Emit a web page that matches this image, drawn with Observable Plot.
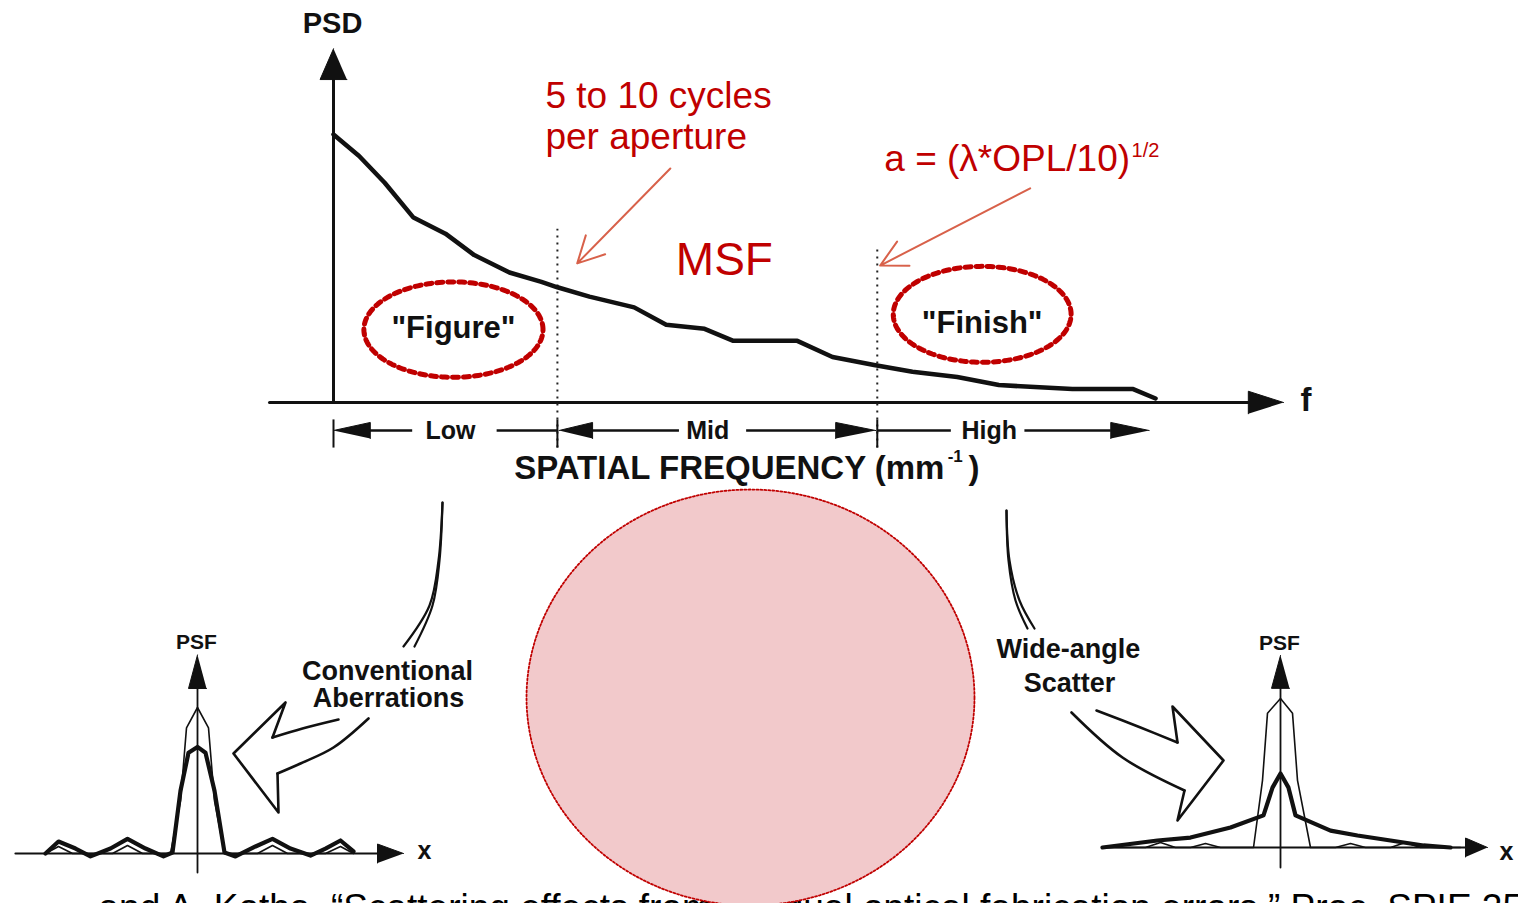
<!DOCTYPE html>
<html><head><meta charset="utf-8">
<script src="https://cdn.jsdelivr.net/npm/d3@7"></script>
<script src="https://cdn.jsdelivr.net/npm/@observablehq/plot@0.6"></script>
<style>
html,body{margin:0;padding:0;background:#fff;overflow:hidden}
#stage{position:relative;width:1518px;height:903px;overflow:hidden;background:#fff}
#stage svg{position:absolute;left:0;top:0;background:transparent}
</style></head><body><div id="stage"></div>
<script>
// ---------------- data ----------------
// PSD curve (spatial frequency in arbitrary units, PSD in arbitrary units)
const psdFreq  = [0, 0.8, 1.6, 2.5, 3.5, 4.4, 5.5, 6.5, 7, 8, 9.4, 10.4, 11.6, 12.5, 14.5, 15.6, 16.9, 18.1, 19.5, 20.8, 23.1, 25, 25.7];
const psdValue = [10, 9.2, 8.2, 6.9, 6.3, 5.5, 4.85, 4.5, 4.3, 3.95, 3.55, 2.9, 2.75, 2.3, 2.3, 1.7, 1.4, 1.15, 0.95, 0.65, 0.5, 0.5, 0.15];
// band boundaries (Low | Mid | High)
const bandLabels = ["Low", "Mid", "High"];
const bandEdges = [0, 7, 17];
// left PSF: ideal (thin) and conventional aberrations (thick)
const leftIdealX  = [-15.2, -13.9, -12.5, -8.5, -7.0, -5.5, -2.7, -1.7, -1.1, 0, 1.1, 1.7, 2.7, 6.0, 7.5, 9.0, 12.8, 14.3, 15.6];
const leftIdealY  = [0, 0.048, 0, 0, 0.055, 0, 0, 0.36, 0.86, 1, 0.86, 0.36, 0, 0, 0.055, 0, 0, 0.048, 0];
const leftAberrX  = [-15.2, -13.9, -12.2, -10.7, -8.7, -7.0, -5.2, -3.4, -2.5, -1.7, -0.9, 0, 0.8, 1.7, 2.7, 3.8, 5.8, 7.5, 9.3, 11.3, 12.8, 14.3, 15.6];
const leftAberrY  = [0, 0.082, 0.034, -0.02, 0.034, 0.10, 0.034, -0.02, 0.007, 0.43, 0.69, 0.73, 0.69, 0.43, 0.007, -0.02, 0.048, 0.10, 0.034, -0.014, 0.034, 0.089, 0.014];
// right PSF: ideal (thin) and wide-angle scatter (thick)
const rightIdealX   = [-17.8, -13.5, -12, -10.5, -9, -7.5, -6, -2.7, -1.8, -1.3, 0, 1.2, 1.7, 3, 5.5, 7, 8.5, 11, 12.5, 14, 18];
const rightIdealY   = [0, 0, 0.034, 0, 0, 0.027, 0, 0, 0.46, 0.92, 1.02, 0.92, 0.46, 0, 0, 0.027, 0, 0, 0.034, 0, 0];
const rightScatterX = [-17.8, -12.3, -9, -5, -1.7, -0.8, 0, 0.8, 1.5, 5, 7.7, 11, 14.3, 17];
const rightScatterY = [0, 0.048, 0.068, 0.137, 0.22, 0.41, 0.507, 0.41, 0.22, 0.116, 0.082, 0.048, 0.014, 0];
// texts
const annotTop = ["5 to 10 cycles", "per aperture"];
const formula = "a = (\u03bb*OPL/10)";
const formulaExp = "1/2";
const citation = "and A. Kotha, \u201cScattering effects from residual optical fabrication errors,\u201d Proc. SPIE 2576 (1995)";

// ---------------- helpers ----------------
const FONT = "Liberation Sans, Arial, Helvetica, sans-serif";
const RED = "#c00000";
const SALMON = "#d8614a";
const rows = (xs, ys) => xs.map((x, i) => ({x, y: ys[i]}));
const pts = arr => arr.map(([x, y]) => ({x, y}));
const poly = (arr, o = {}) => Plot.line(pts(arr), {x: "x", y: "y", fill: "#111", stroke: "#111", strokeWidth: 1, ...o});
const ellipse = (cx, cy, rx, ry, n = 200) => d3.range(n + 1).map(i => {
  const t = 2 * Math.PI * i / n;
  return {x: cx + rx * Math.cos(t), y: cy + ry * Math.sin(t)};
});
const txt = (x, y, t, o = {}) => Plot.text([t], {x: () => x, y: () => y, text: d => d, fontFamily: FONT, fill: "#111", ...o});
function layer(xd, xr, yd, yr, marks) {
  return Plot.plot({
    width: 1518, height: 903, margin: 0,
    x: {domain: xd, range: xr, axis: null},
    y: {domain: yd, range: yr, axis: null},
    style: {background: "transparent", overflow: "hidden"},
    marks
  });
}
const stage = document.getElementById("stage");

// ---------------- main PSD chart ----------------
const psdRows = psdFreq.map((f, i) => ({x: f, y: psdValue[i]}));
const segs = [[1.1, 2.46], [5.1, 7], [8.06, 10.8], [12.9, 15.7], [17, 19.3], [21.6, 24.3]];
const rowY = -1.045;
const mainMarks = [
  // axes
  Plot.line(pts([[-2, 0], [28.8, 0]]), {x: "x", y: "y", stroke: "#111", strokeWidth: 3}),
  poly([[29.7, 0], [28.6, 0.42], [28.6, -0.42]]),
  Plot.line(pts([[0, 0], [0, 12.3]]), {x: "x", y: "y", stroke: "#111", strokeWidth: 3}),
  poly([[0, 13.2], [-0.42, 12.05], [0.42, 12.05]]),
  // dotted band boundaries
  Plot.ruleX([{x: bandEdges[1], top: 6.46}, {x: bandEdges[2], top: 5.86}], {x: "x", y1: -1.7, y2: "top", stroke: "#222", strokeWidth: 2, strokeDasharray: "2 5"}),
  // PSD curve
  Plot.line(psdRows, {x: "x", y: "y", stroke: "#111", strokeWidth: 4.5, strokeLinejoin: "round", strokeLinecap: "round"}),
  // band row
  Plot.ruleX(bandEdges, {x: d => d, y1: -0.65, y2: -1.7, stroke: "#111", strokeWidth: 2}),
  Plot.link(segs, {x1: d => d[0], x2: d => d[1], y1: () => rowY, y2: () => rowY, stroke: "#111", strokeWidth: 2.5}),
  poly([[0, rowY], [1.15, rowY + 0.3], [1.15, rowY - 0.3]]),
  poly([[7.05, rowY], [8.1, rowY + 0.3], [8.1, rowY - 0.3]]),
  poly([[16.95, rowY], [15.7, rowY + 0.3], [15.7, rowY - 0.3]]),
  poly([[25.5, rowY], [24.3, rowY + 0.3], [24.3, rowY - 0.3]]),
  Plot.text(bandLabels, {x: [3.66, 11.7, 20.5], y: [rowY, rowY, rowY], text: d => d, fontFamily: FONT, fontSize: 25, fontWeight: "bold", fill: "#111"}),
  txt(19.1, -2.455, "SPATIAL FREQUENCY (mm", {fontSize: 33, fontWeight: "bold", textAnchor: "end"}),
  txt(19.2, -2.0, "-1", {fontSize: 17, fontWeight: "bold", textAnchor: "start"}),
  txt(19.85, -2.455, ")", {fontSize: 33, fontWeight: "bold", textAnchor: "start"}),
  txt(-0.03, 14.12, "PSD", {fontSize: 29, fontWeight: "bold"}),
  txt(30.4, 0.07, "f", {fontSize: 33, fontWeight: "bold"}),
  // red annotations
  txt(6.625, 11.44, annotTop[0], {fontSize: 37, fill: RED, textAnchor: "start"}),
  txt(6.625, 9.91, annotTop[1], {fontSize: 37, fill: RED, textAnchor: "start"}),
  txt(12.22, 5.3, "MSF", {fontSize: 46, fill: RED}),
  txt(17.22, 9.09, formula, {fontSize: 37, fill: RED, textAnchor: "start"}),
  txt(24.95, 9.4, formulaExp, {fontSize: 20, fill: RED, textAnchor: "start"}),
  Plot.arrow([{x1: 10.53, y1: 8.73, x2: 7.62, y2: 5.19}, {x1: 21.78, y1: 7.99, x2: 17.09, y2: 5.11}],
    {x1: "x1", y1: "y1", x2: "x2", y2: "y2", stroke: SALMON, strokeWidth: 2, headLength: 22, headAngle: 55}),
  Plot.line(ellipse(3.75, 2.72, 2.8, 1.78), {x: "x", y: "y", stroke: RED, strokeWidth: 5, strokeDasharray: "6 5"}),
  Plot.line(ellipse(20.28, 3.29, 2.78, 1.79), {x: "x", y: "y", stroke: RED, strokeWidth: 5, strokeDasharray: "6 5"}),
  txt(3.75, 2.78, "\"Figure\"", {fontSize: 31, fontWeight: "bold"}),
  txt(20.28, 2.95, "\"Finish\"", {fontSize: 31, fontWeight: "bold"})
];
stage.appendChild(layer([0, 29.7], [333, 1283], [0, 10], [402, 134], mainMarks));

// ---------------- PSF plots ----------------
function psfMarks(ideal, aberr, ax) {
  return [
    Plot.line(pts([[ax.x0, 0], [ax.xe, 0]]), {x: "x", y: "y", stroke: "#111", strokeWidth: 2.2}),
    poly([[ax.xt, 0], [ax.xe, 0.065], [ax.xe, -0.065]]),
    Plot.line(pts([[0, ax.yb], [0, ax.ye]]), {x: "x", y: "y", stroke: "#111", strokeWidth: 1.8}),
    poly([[0, ax.yt], [-0.9, ax.ye], [0.9, ax.ye]]),
    Plot.line(ideal, {x: "x", y: "y", stroke: "#111", strokeWidth: 1.6, strokeLinejoin: "round"}),
    Plot.line(aberr, {x: "x", y: "y", stroke: "#111", strokeWidth: 4.2, strokeLinejoin: "round"}),
    txt(-0.1, ax.ly, "PSF", {fontSize: 21, fontWeight: "bold"}),
    txt(ax.xl, ax.xly, "x", {fontSize: 25, fontWeight: "bold"})
  ];
}
stage.appendChild(layer([0, 10], [197, 297], [0, 1], [853, 707],
  psfMarks(rows(leftIdealX, leftIdealY), rows(leftAberrX, leftAberrY),
    {x0: -18.2, xe: 18, xt: 20.6, yb: -0.13, ye: 1.13, yt: 1.36, ly: 1.45, xl: 22.7, xly: 0.02})));
stage.appendChild(layer([0, 10], [1280, 1380], [0, 1], [847, 701],
  psfMarks(rows(rightIdealX, rightIdealY), rows(rightScatterX, rightScatterY),
    {x0: -17.8, xe: 18.5, xt: 20.7, yb: -0.137, ye: 1.09, yt: 1.315, ly: 1.40, xl: 22.6, xly: -0.03})));

// ---------------- overlay (page coordinates) ----------------
const K = {stroke: "#111", strokeWidth: 2.6, strokeLinejoin: "round"};
const curveLine = (arr, o = {}) => Plot.line(pts(arr), {x: "x", y: "y", curve: "catmull-rom", ...K, ...o});
const overlayMarks = [
  // citation (partly hidden by the ellipse and the page edge, as in the reference)
  txt(98, 893, citation, {fontSize: 37, textAnchor: "start", lineAnchor: "top", fill: "#000"}),
  // pink ellipse
  Plot.line(ellipse(750, 697, 224, 208), {x: "x", y: "y", fill: "#f2c9cb", stroke: RED, strokeWidth: 1.8, strokeDasharray: "2 2"}),
  // leader lines
  curveLine([[442, 502], [438, 560], [429, 605], [403, 646]], {strokeWidth: 2.2}),
  curveLine([[442, 502], [439, 560], [432, 605], [414, 646]], {strokeWidth: 2.2}),
  curveLine([[1006, 510], [1008, 560], [1015, 600], [1027, 628]], {strokeWidth: 2.2}),
  curveLine([[1006, 510], [1009, 560], [1019, 600], [1034, 628]], {strokeWidth: 2.2}),
  // left hollow arrow
  Plot.line(pts([[277, 773], [278, 812], [233, 753], [285, 702], [272, 737]]), {x: "x", y: "y", ...K}),
  curveLine([[272, 737], [302, 728], [338, 719]]),
  curveLine([[368, 718], [333, 747], [300, 763], [277, 773]]),
  // right hollow arrow
  curveLine([[1096, 710], [1140, 727], [1177, 742]]),
  Plot.line(pts([[1177, 742], [1172, 706], [1223, 760], [1177, 820], [1184, 790]]), {x: "x", y: "y", ...K}),
  curveLine([[1184, 790], [1122, 757], [1071, 712]]),
  // labels
  txt(387, 671, "Conventional", {fontSize: 27, fontWeight: "bold"}),
  txt(388, 698, "Aberrations", {fontSize: 27, fontWeight: "bold"}),
  txt(1068, 649, "Wide-angle", {fontSize: 27, fontWeight: "bold"}),
  txt(1069, 683, "Scatter", {fontSize: 27, fontWeight: "bold"})
];
stage.appendChild(layer([0, 1518], [0, 1518], [0, 903], [0, 903], overlayMarks));
</script>
</body></html>
